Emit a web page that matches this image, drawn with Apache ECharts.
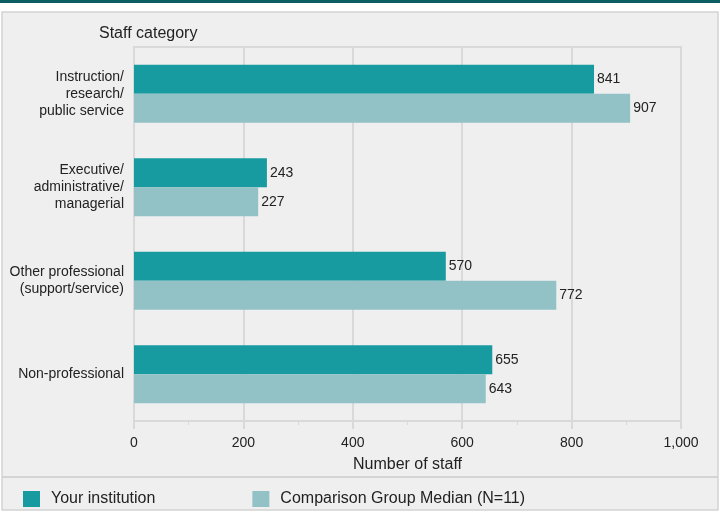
<!DOCTYPE html>
<html><head><meta charset="utf-8">
<script src="https://cdn.jsdelivr.net/npm/echarts@6/dist/echarts.min.js"></script>
<style>html,body{margin:0;padding:0;background:#fff}#c{width:720px;height:512px}</style>
</head><body><div id="c"></div>
<script>
var categories = ["Instruction/\nresearch/\npublic service", "Executive/\nadministrative/\nmanagerial", "Other professional\n(support/service)", "Non-professional"];
var yourInstitution = [841, 243, 570, 655];
var comparisonMedian = [907, 227, 772, 643];
var seriesNames = ["Your institution", "Comparison Group Median (N=11)"];
var FONT = "Liberation Sans";
var chart = echarts.init(document.getElementById('c'));
chart.setOption({
  animation: false,
  textStyle: {fontFamily: FONT},
  graphic: [
    {type: 'rect', shape: {x: 0, y: 0, width: 720, height: 3}, style: {fill: '#0b5f63'}, z: 0},
    {type: 'rect', shape: {x: 2, y: 12, width: 716, height: 498}, style: {fill: '#efefef', stroke: '#d4d4d4', lineWidth: 1.5}, z: -10, silent: true},
    {type: 'line', shape: {x1: 2, y1: 477, x2: 718, y2: 477}, style: {stroke: '#d4d4d4', lineWidth: 2}, z: 0}
  ],
  title: {text: 'Staff category', left: 94, top: 21, textStyle: {fontFamily: FONT, fontSize: 16, fontWeight: 'normal', color: '#222'}},
  legend: {
    left: 18, top: 486, itemWidth: 17, itemHeight: 16, itemGap: 97,
    icon: 'rect',
    textStyle: {fontFamily: FONT, fontSize: 16, color: '#222', padding: [0, 0, 0, 6]},
    data: seriesNames
  },
  grid: {left: 134, right: 39, top: 47, bottom: 91, show: true, borderColor: '#d9d9d9', borderWidth: 2, backgroundColor: 'transparent'},
  xAxis: {
    type: 'value', min: 0, max: 1000, interval: 200,
    axisLine: {show: true, lineStyle: {color: '#d9d9d9', width: 2}},
    axisTick: {show: true, length: 8, lineStyle: {color: '#d9d9d9', width: 2}},
    minorTick: {show: true, splitNumber: 2, length: 4, lineStyle: {color: '#d9d9d9', width: 1}},
    splitLine: {show: true, lineStyle: {color: '#d9d9d9', width: 2}},
    axisLabel: {margin: 15, fontSize: 14, color: '#222', formatter: function (v) { return v.toLocaleString('en-US'); }},
    name: 'Number of staff', nameLocation: 'middle', nameGap: 36,
    nameTextStyle: {fontSize: 16, color: '#222'}
  },
  yAxis: {
    type: 'category', inverse: true, data: categories,
    axisLine: {show: true, lineStyle: {color: '#d9d9d9', width: 2}},
    axisTick: {show: false},
    axisLabel: {margin: 10, fontSize: 14, color: '#222', align: 'right', lineHeight: 17}
  },
  series: [
    {name: seriesNames[0], type: 'bar', data: yourInstitution, barWidth: 29, barGap: '0%',
     itemStyle: {color: '#189ba0'},
     label: {show: true, position: 'right', distance: 3, fontSize: 14, color: '#222'}},
    {name: seriesNames[1], type: 'bar', data: comparisonMedian, barWidth: 29, barGap: '0%',
     itemStyle: {color: '#92c1c6'},
     label: {show: true, position: 'right', distance: 3, fontSize: 14, color: '#222'}}
  ]
});
</script></body></html>
